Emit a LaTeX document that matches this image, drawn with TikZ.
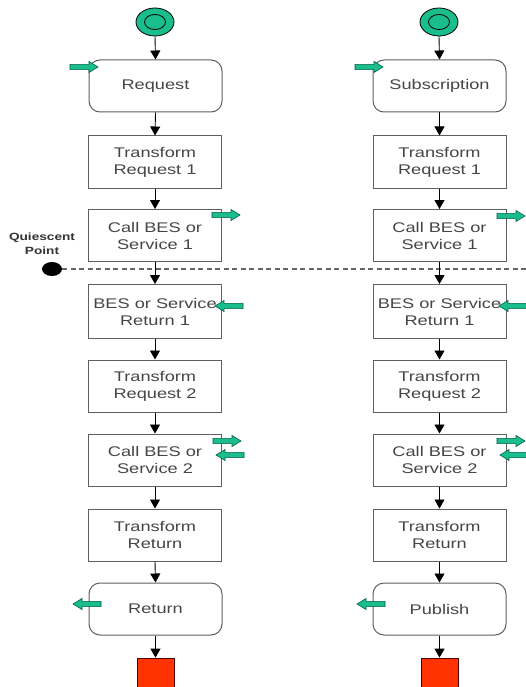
\documentclass[tikz,border=0pt]{standalone}
\usepackage{fontspec}
\setmainfont{Liberation Sans}[FakeStretch=1.3]
\usetikzlibrary{shapes.geometric,arrows.meta}
\definecolor{tgreen}{RGB}{26,190,140}
\definecolor{tgreendark}{RGB}{0,95,70}
\definecolor{txtgray}{RGB}{70,70,70}
\definecolor{boxgray}{RGB}{95,95,95}
\definecolor{endred}{RGB}{255,51,0}
\tikzset{
  stepbox/.style={draw=boxgray, line width=1pt, minimum width=133pt, minimum height=52pt,
    align=center, text=txtgray, inner sep=0pt, font=\fontsize{14}{17}\selectfont},
  roundbox/.style={stepbox, rounded corners=11pt},
  startnode/.style={ellipse, draw=black, line width=0.8pt, fill=tgreen, minimum width=38pt, minimum height=28pt, inner sep=0pt},
  startring/.style={ellipse, draw=black, line width=0.8pt, minimum width=21pt, minimum height=15pt, inner sep=0pt},
  endnode/.style={draw=black!70!red, line width=0.8pt, fill=endred, minimum size=37pt, inner sep=0pt},
  flow/.style={draw=black, line width=0.9pt, -{Triangle[width=10pt,length=9pt]}},
  garrow/.pic={\draw[fill=tgreen, draw=tgreendark, line width=0.6pt]
     (0,-2.6) -- (19,-2.6) -- (19,-5.5) -- (28,0) -- (19,5.5) -- (19,2.6) -- (0,2.6) -- cycle;}
}
\begin{document}
\begin{tikzpicture}[x=1pt,y=-1pt]
\useasboundingbox (0,0) rectangle (526,687);
\clip (0,0) rectangle (526,687);
\fill[white] (0,0) rectangle (526,687);

% quiescent point line
\node[ellipse, fill=black, minimum width=20pt, minimum height=14pt, inner sep=0pt] (qdot) at (52,269) {};
\coordinate (qend) at (530,269);
\draw[black!60, line width=1.1pt, dash pattern=on 5pt off 3.5pt] (qdot.east) -- (qend);
\node[align=center, font=\bfseries\fontsize{10.5}{14}\selectfont, text=black!80] (qlabel) at (42,244) {Quiescent\\Point};

% left column
\node[startnode] (sA) at (155,22) {};
\node[startring] (sAr) at (155,22) {};
\node[roundbox] (reqA) at (155.5,86) {Request};
\node[stepbox] (t1A) at (155,162) {Transform\\Request 1};
\node[stepbox] (c1A) at (155,235.5) {Call BES or\\Service 1};
\node[stepbox, minimum height=54pt] (r1A) at (155,311.5) {BES or Service\\Return 1};
\node[stepbox] (t2A) at (155,386) {Transform\\Request 2};
\node[stepbox] (c2A) at (155,460) {Call BES or\\Service 2};
\node[stepbox] (trA) at (155,535) {Transform\\Return};
\node[roundbox] (retA) at (155.5,609) {Return};
\node[endnode] (eA) at (155.5,676.5) {};

% right column
\node[startnode] (sB) at (439,22) {};
\node[startring] (sBr) at (439,22) {};
\node[roundbox] (reqB) at (439.5,86) {Subscription};
\node[stepbox] (t1B) at (439.5,162) {Transform\\Request 1};
\node[stepbox] (c1B) at (439.5,235.5) {Call BES or\\Service 1};
\node[stepbox, minimum height=54pt] (r1B) at (439.5,311.5) {BES or Service\\Return 1};
\node[stepbox] (t2B) at (439.5,386) {Transform\\Request 2};
\node[stepbox] (c2B) at (439.5,460) {Call BES or\\Service 2};
\node[stepbox] (trB) at (439.5,535) {Transform\\Return};
\node[roundbox] (retB) at (439.5,609) {Publish};
\node[endnode] (eB) at (439.5,676.5) {};

% connectors
\foreach \c in {A,B}{
  \draw[flow] (s\c.south) -- (req\c.north);
  \draw[flow] (req\c.south) -- (t1\c.north);
  \draw[flow] (t1\c.south) -- (c1\c.north);
  \draw[flow] (c1\c.south) -- (r1\c.north);
  \draw[flow] (r1\c.south) -- (t2\c.north);
  \draw[flow] (t2\c.south) -- (c2\c.north);
  \draw[flow] (c2\c.south) -- (tr\c.north);
  \draw[flow] (tr\c.south) -- (ret\c.north);
  \draw[flow] (ret\c.south) -- (e\c.north);
}

% green block arrows, left column
\pic at (70,67) {garrow};
\pic at (212,215) {garrow};
\pic[xscale=-1] at (243,306) {garrow};
\pic at (213,441) {garrow};
\pic[xscale=-1] at (244,455) {garrow};
\pic[xscale=-1] at (101,604) {garrow};
% green block arrows, right column
\pic at (355,67) {garrow};
\pic at (497,216) {garrow};
\pic[xscale=-1] at (527,306) {garrow};
\pic at (497,441) {garrow};
\pic[xscale=-1] at (528,455) {garrow};
\pic[xscale=-1] at (385,604) {garrow};
\end{tikzpicture}
\end{document}
